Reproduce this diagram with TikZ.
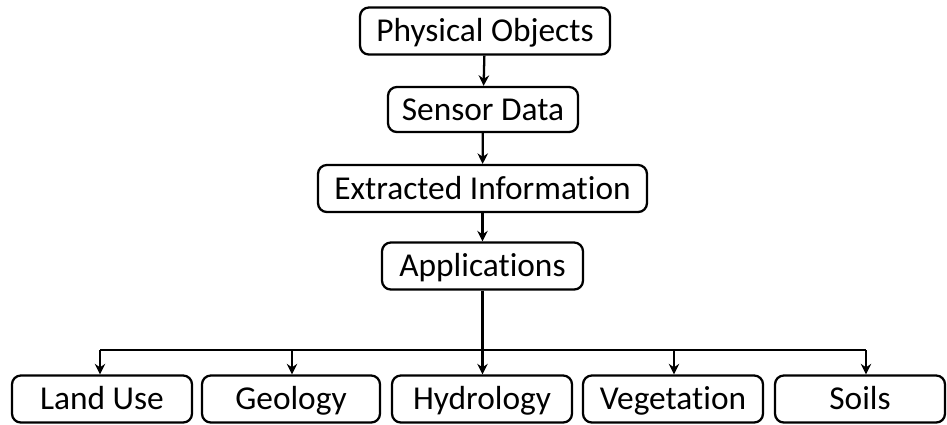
\documentclass[tikz,border=0pt]{standalone}
\usepackage{fontspec}
\setmainfont[Ligatures=NoCommon]{Carlito}
\usetikzlibrary{arrows.meta}

\begin{document}
\begin{tikzpicture}[
                x=0.02cm, y=-0.02cm,
                stagebox/.style={
                    draw, line width=1.3pt, rounded corners=5pt,
                    minimum height=0.94cm, inner sep=0pt,
                    text height=14pt, text depth=1.5pt,
                    font=\fontsize{19}{22}\selectfont
                },
                flow/.style={
                    line width=1.3pt, -{Stealth[length=6pt, width=6pt]}
                }
            ]
            \useasboundingbox (0, 0) rectangle (947, 424);
            \node[stagebox, minimum width=5cm] (phys) at (485, 31) {Physical Objects};
            \node[stagebox, minimum width=3.8cm, minimum height=0.9cm] (sens) at (483, 109.5) {Sensor Data};
            \node[stagebox, minimum width=6.58cm] (extr) at (482.5, 188.5) {Extracted Information};
            \node[stagebox, minimum width=4.02cm] (appl) at (482.5, 266) {Applications};
            \node[stagebox, minimum width=3.6cm] (land) at (102, 399) {Land Use};
            \node[stagebox, minimum width=3.56cm] (geol) at (291, 399) {Geology};
            \node[stagebox, minimum width=3.6cm] (hydr) at (482, 399) {Hydrology};
            \node[stagebox, minimum width=3.6cm] (vege) at (673, 399) {Vegetation};
            \node[stagebox, minimum width=3.4cm] (soil) at (860, 399) {Soils};
            \coordinate (busL) at (100, 350);
            \coordinate (busG) at (292, 350);
            \coordinate (busV) at (674, 350);
            \coordinate (busR) at (866, 350);
            
            % chain
            \draw[flow] (phys) -- (sens);
            \draw[flow] (sens) -- (extr);
            \draw[flow] (extr) -- (appl);
            \draw[flow] (appl) -- (appl |- hydr.north);
            % branches
            \draw[line width=1.3pt] (busL) -- (busR);
            \draw[flow] (busL) -- (busL |- land.north);
            \draw[flow] (busG) -- (busG |- geol.north);
            \draw[flow] (busV) -- (busV |- vege.north);
            \draw[flow] (busR) -- (busR |- soil.north);
            \end{tikzpicture}
\end{document}
